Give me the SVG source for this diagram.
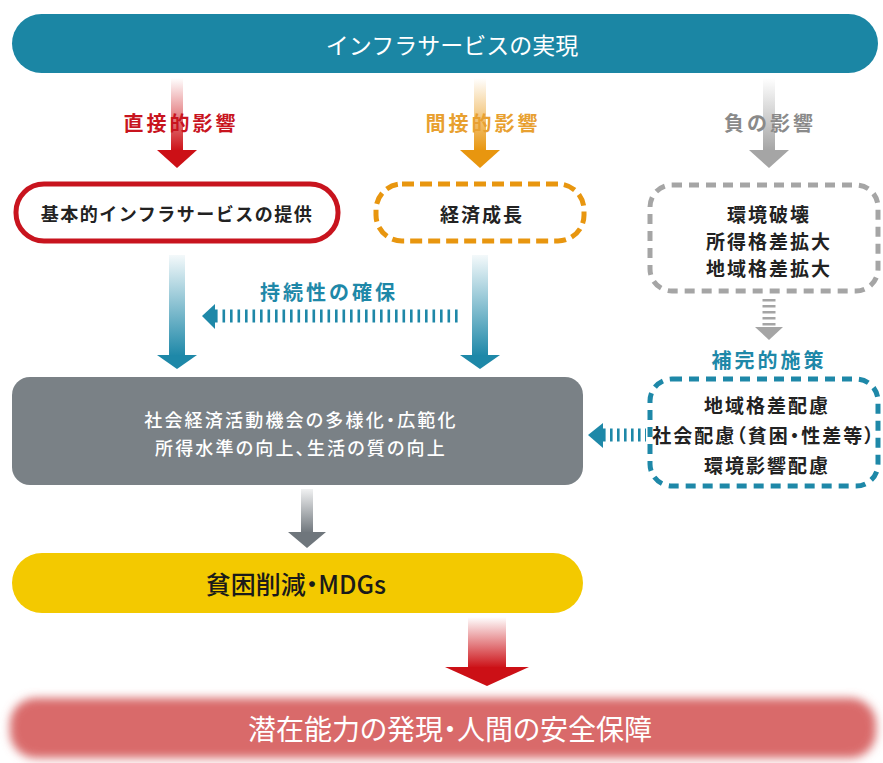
<svg xmlns="http://www.w3.org/2000/svg" width="883" height="763" viewBox="0 0 883 763">
<defs>
<style>
text{font-family:"Noto Sans CJK JP","Noto Sans",sans-serif;text-anchor:middle;dominant-baseline:central}
.lbl{font-weight:bold;font-size:20px;letter-spacing:3px}
.box{font-weight:bold;font-size:19px;fill:#222;letter-spacing:2px}
.wt{fill:#fff}
.palt{font-feature-settings:"palt"}
</style>
<linearGradient id="gRed" x1="0" y1="0" x2="0" y2="1"><stop offset="0" stop-color="#cc1016" stop-opacity="0"/><stop offset="1" stop-color="#cc1016"/></linearGradient>
<linearGradient id="gOr" x1="0" y1="0" x2="0" y2="1"><stop offset="0" stop-color="#e8960f" stop-opacity="0"/><stop offset="1" stop-color="#e8960f"/></linearGradient>
<linearGradient id="gGr" x1="0" y1="0" x2="0" y2="1"><stop offset="0" stop-color="#a5a5a5" stop-opacity="0"/><stop offset="1" stop-color="#a5a5a5"/></linearGradient>
<linearGradient id="gTeal" x1="0" y1="0" x2="0" y2="1"><stop offset="0" stop-color="#1e88a8" stop-opacity="0.05"/><stop offset="1" stop-color="#1e88a8"/></linearGradient>
<linearGradient id="gDk" x1="0" y1="0" x2="0" y2="1"><stop offset="0" stop-color="#6f767c" stop-opacity="0.1"/><stop offset="1" stop-color="#6f767c"/></linearGradient>
<filter id="blur" x="-5%" y="-30%" width="110%" height="160%"><feGaussianBlur stdDeviation="5"/></filter>
</defs>

<g id="connectors">
  <rect x="171" y="78" width="12" height="73" fill="url(#gRed)"/>
  <polygon points="157,150 197,150 177,168" fill="#cc1016"/>
  <rect x="474" y="78" width="12" height="73" fill="url(#gOr)"/>
  <polygon points="460,150 500,150 480,168" fill="#e8960f"/>
  <rect x="763" y="78" width="12" height="73" fill="url(#gGr)"/>
  <polygon points="749,150 789,150 769,168" fill="#a5a5a5"/>
  <rect x="169" y="255" width="16" height="101" fill="url(#gTeal)"/>
  <polygon points="157,355 197,355 177,369" fill="#1e88a8"/>
  <rect x="472" y="255" width="16" height="101" fill="url(#gTeal)"/>
  <polygon points="460,355 500,355 480,369" fill="#1e88a8"/>
  <line x1="215" y1="316" x2="459" y2="316" stroke="#1e88a8" stroke-width="13" stroke-dasharray="2.6 4.9"/>
  <polygon points="202,316 215,304 215,329" fill="#1e88a8"/>
  <line x1="769" y1="299" x2="769" y2="327" stroke="#a5a5a5" stroke-width="13" stroke-dasharray="2.6 3.4"/>
  <polygon points="755,327 783,327 769,340" fill="#a5a5a5"/>
  <line x1="603" y1="435" x2="646" y2="435" stroke="#1e88a8" stroke-width="13" stroke-dasharray="2.6 4.4"/>
  <polygon points="588,435 603,423 603,448" fill="#1e88a8"/>
  <rect x="301" y="489" width="12" height="44" fill="url(#gDk)"/>
  <polygon points="288,532 326,532 307,548" fill="#6f767c"/>
  <rect x="468" y="617" width="38" height="51" fill="url(#gRed)"/>
  <polygon points="445,667 529,667 487,686" fill="#cc1016"/>
</g>

<g id="top">
  <rect x="12" y="14" width="866" height="59" rx="29.5" fill="#1b86a4"/>
  <text x="452" y="44" class="wt" style="font-size:23px">インフラサービスの実現</text>
</g>

<g id="lbl-direct"><text x="181" y="122" class="lbl" fill="#c8141e">直接的影響</text></g>
<g id="lbl-indirect"><text x="483" y="122" class="lbl" fill="#e8a030">間接的影響</text></g>
<g id="lbl-negative"><text x="770" y="122" class="lbl" fill="#8a8a8a">負の影響</text></g>

<g id="basic">
  <rect x="16" y="184" width="322" height="57" rx="28" fill="#fff" stroke="#c8141e" stroke-width="5"/>
  <text x="177" y="213" class="box" style="font-size:18px;letter-spacing:1.5px">基本的インフラサービスの提供</text>
</g>

<g id="growth">
  <rect x="376" y="184" width="208" height="57" rx="26" fill="#fff" stroke="#e8960f" stroke-width="5" stroke-dasharray="12 6"/>
  <text x="482" y="213" class="box">経済成長</text>
</g>

<g id="negative">
  <rect x="650" y="185" width="228" height="106" rx="22" fill="#fff" stroke="#a5a5a5" stroke-width="5" stroke-dasharray="10 7"/>
  <text x="769" y="213" class="box">環境破壊</text>
  <text x="769" y="240" class="box">所得格差拡大</text>
  <text x="769" y="267" class="box">地域格差拡大</text>
</g>

<g id="lbl-sustain"><text x="329" y="291" class="lbl" fill="#1e88a8">持続性の確保</text></g>
<g id="lbl-comp"><text x="769" y="359" class="lbl" fill="#1e88a8">補完的施策</text></g>

<g id="complementary">
  <rect x="650" y="379" width="228" height="107" rx="22" fill="#fff" stroke="#1e88a8" stroke-width="5" stroke-dasharray="10 7"/>
  <text x="767" y="404" class="box">地域格差配慮</text>
  <text x="764" y="434" class="box palt" style="letter-spacing:2px">社会配慮（貧困・性差等）</text>
  <text x="767" y="464" class="box">環境影響配慮</text>
</g>

<g id="social">
  <rect x="12" y="377" width="571" height="108" rx="18" fill="#7a8186"/>
  <text x="301" y="419" class="wt palt" style="font-size:18px;font-weight:500;letter-spacing:2.2px">社会経済活動機会の多様化・広範化</text>
  <text x="301" y="447" class="wt palt" style="font-size:18px;font-weight:500;letter-spacing:2.2px">所得水準の向上、生活の質の向上</text>
</g>

<g id="poverty">
  <rect x="12" y="553" width="571" height="60" rx="30" fill="#f3c900"/>
  <text x="296" y="583" class="palt" style="font-size:25px;font-weight:500;fill:#1a1a1a">貧困削減・MDGs</text>
</g>

<g id="security">
  <rect x="10" y="698" width="866" height="60" rx="26" fill="#d96a6a" filter="url(#blur)"/>
  <text x="450" y="728" class="wt palt" style="font-size:28px">潜在能力の発現・人間の安全保障</text>
</g>
</svg>
